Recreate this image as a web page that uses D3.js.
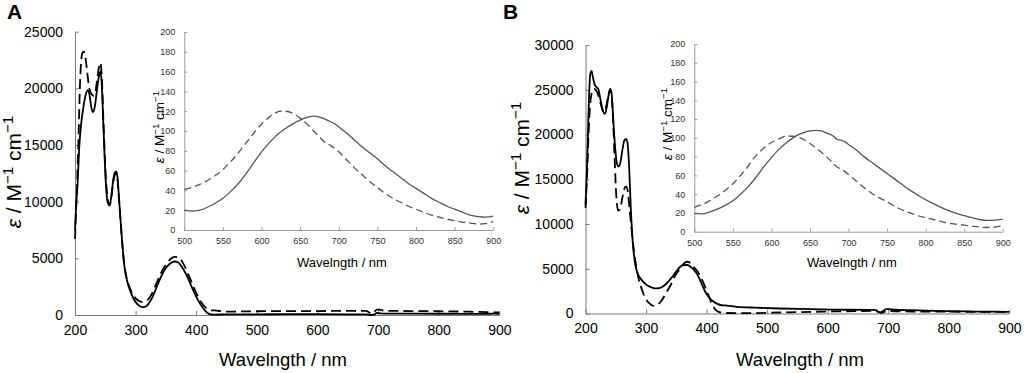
<!DOCTYPE html>
<html><head><meta charset="utf-8">
<script src="https://cdn.jsdelivr.net/npm/d3@7"></script>
<style>
html,body{margin:0;padding:0;background:#fff;}
svg{display:block;font-family:"Liberation Sans",Arial,sans-serif;}
</style></head>
<body>
<svg id="c" width="1024" height="373"></svg>
<script>
// ---------- DATA ----------
const mainXTicks = [200,300,400,500,600,700,800,900];
const mainYTicksA = [0,5000,10000,15000,20000,25000];
const mainYTicksB = [0,5000,10000,15000,20000,25000,30000];
const insetXTicks = [500,550,600,650,700,750,800,850,900];
const insetYTicks = [0,20,40,60,80,100,120,140,160,180,200];

const mainA_solid = [[200,7500],[202,9800],[204,11300],[207,14800],[210,16800],[214,18400],[218,19500],[221,19850],[224,19400],[227,18300],[230,17900],[233,18500],[237,20200],[240,21200],[242,21500],[244,20500],[247,16500],[250,12500],[254,9900],[257,9650],[260,10500],[263,11900],[266,12600],[268,12650],[270,12200],[273,10000],[277,7000],[281,4500],[286,3000],[292,2000],[298,1300],[305,850],[312,700],[318,800],[325,1300],[332,2100],[340,3150],[348,4000],[356,4500],[364,4720],[370,4650],[378,4100],[386,3300],[394,2300],[402,1400],[410,700],[418,200],[424,60],[430,40],[450,50],[500,60],[550,70],[600,70],[650,60],[680,50],[686,10],[690,0],[694,60],[698,180],[702,160],[710,130],[750,120],[800,110],[850,100],[880,100],[890,120],[900,100]];
const mainA_dashed = [[200,6700],[202,9500],[204,12500],[206,16000],[208,20000],[210,22300],[212,23100],[214,23250],[217,22800],[220,21500],[223,20200],[227,19500],[231,19350],[234,19800],[237,21000],[240,22000],[242,22250],[244,21200],[247,17000],[250,13000],[254,10200],[257,9700],[260,10400],[263,11700],[266,12400],[268,12500],[270,12000],[273,9900],[277,7000],[281,4600],[286,3100],[292,2200],[298,1600],[305,1250],[311,1150],[318,1250],[325,1700],[332,2500],[340,3500],[348,4300],[356,4850],[364,5130],[370,5100],[378,4600],[386,3700],[394,2700],[402,1700],[410,1000],[418,550],[424,420],[430,400],[450,300],[500,330],[550,340],[600,350],[650,360],[680,360],[686,200],[690,90],[694,300],[698,480],[702,470],[710,380],[750,350],[800,330],[850,290],[880,250],[900,230]];
const mainB_solid = [[200,12200],[202,15500],[204,20000],[206,24500],[208,26800],[210,27100],[212,26500],[215,25600],[218,25300],[221,25100],[225,23800],[229,22600],[232,22300],[235,23000],[238,24300],[241,24950],[243,24600],[246,21500],[249,18500],[252,16700],[255,16400],[258,17000],[261,18300],[264,19300],[267,19500],[269,19200],[272,16500],[275,11500],[278,8000],[281,6000],[285,4700],[290,4000],[296,3500],[303,3100],[310,2900],[318,2800],[325,2900],[333,3300],[341,3900],[349,4600],[356,5200],[362,5400],[368,5420],[374,5200],[380,4800],[386,4200],[392,3300],[398,2400],[404,1800],[410,1400],[417,1100],[423,950],[430,900],[450,750],[480,650],[520,560],[575,490],[630,420],[676,410],[680,380],[684,150],[688,120],[692,300],[697,490],[702,480],[710,420],[740,370],[795,260],[850,220],[900,190]];
const mainB_dashed = [[200,11800],[202,14500],[204,18000],[206,21500],[208,23600],[211,24800],[214,25100],[218,24900],[222,24200],[226,23200],[230,22500],[234,23100],[238,24500],[241,25100],[243,24500],[245,22500],[248,17500],[251,13000],[254,11500],[257,11600],[260,12600],[264,13900],[267,14200],[270,13600],[273,11500],[276,9500],[280,7000],[284,5200],[288,3800],[293,2700],[299,1700],[306,1100],[312,860],[318,950],[325,1400],[332,2150],[340,3100],[348,4200],[356,5000],[362,5550],[368,5780],[374,5600],[380,5100],[387,4500],[393,3700],[398,2900],[404,1900],[410,900],[416,350],[421,150],[430,60],[464,40],[520,110],[575,190],[630,250],[676,290],[682,250],[687,100],[690,80],[694,200],[698,300],[704,280],[740,220],[800,200],[900,180]];

const insetA_solid = [[500,20],[510,19],[520,20],[530,23],[540,27],[550,32],[560,39],[570,47],[580,57],[590,68],[600,79],[610,88],[620,96],[630,102],[640,107],[650,111],[660,114],[668,115],[675,114],[685,111],[695,107],[700,104],[710,98],[720,91],[730,84],[740,78],[750,72],[760,65],[770,59],[780,53],[790,47],[800,42],[810,37],[820,32],[830,28],[840,24],[850,21],[860,18],[870,15],[880,13.5],[890,13],[900,14]];
const insetA_dashed = [[500,41],[510,43],[520,46],[530,50],[540,55],[550,61],[560,69],[570,78],[580,88],[590,98],[600,107],[610,114],[620,119],[625,120],[630,120],[640,118],[650,113],[660,106],[670,98],[680,90],[690,85],[700,79],[710,71],[720,63],[730,56],[740,49],[750,43],[760,37],[770,32],[780,28],[790,24],[800,21],[810,18],[820,15],[830,13],[840,11],[850,9.5],[860,8],[870,7],[880,6],[890,6.5],[900,8.5]];
const insetB_solid = [[500,19.5],[510,19],[520,21],[530,24],[540,28],[550,33],[560,40],[570,48],[580,58],[590,69],[600,79],[610,88],[620,95],[630,101],[640,105],[650,107.5],[658,108],[665,107.5],[672,105],[680,102],[685,98.5],[690,97.5],[695,96],[700,93],[710,87],[720,80],[730,74],[740,68],[750,62],[760,56],[770,50],[780,44],[790,39],[800,34],[810,30],[820,26],[830,22.5],[840,19.5],[850,17],[860,15],[870,13],[880,12],[890,12.3],[900,13.5]];
const insetB_dashed = [[500,26],[510,29],[520,33],[530,38],[540,44],[550,51],[560,60],[570,70],[575,76],[580,81],[590,89],[600,95],[610,99],[620,102],[630,101.5],[640,99],[650,94],[660,88],[670,81],[680,73],[685,69],[690,67],[700,61],[710,54],[720,47],[730,41],[740,36],[750,32],[760,27],[770,23],[780,20],[790,17],[800,15],[810,13],[820,11],[830,9],[840,8],[850,7],[860,6],[870,5],[880,4.5],[890,5],[900,7]];

// ---------- DRAW ----------
const svg = d3.select("#c");
const FONT = '"Liberation Sans",Arial,sans-serif';

function yLabel(g, x, y, size) {
  const t = g.append("text")
    .attr("transform", `translate(${x},${y}) rotate(-90)`)
    .attr("text-anchor", "middle")
    .attr("font-size", size).attr("fill", "#000");
  const s = size*0.72, up = size*0.38;
  t.append("tspan").attr("font-style", "italic").text("ε");
  t.append("tspan").text(" / M");
  t.append("tspan").attr("font-size", s).attr("dy", -up).text("−1");
  t.append("tspan").attr("dy", up).text(" cm");
  t.append("tspan").attr("font-size", s).attr("dy", -up).text("−1");
}

function mainPanel(cfg) {
  const g = svg.append("g");
  const x = d3.scaleLinear().domain([200, 900]).range(cfg.xr);
  const y = d3.scaleLinear().domain([0, cfg.ymax]).range(cfg.yr);
  const ax = g.append("g").attr("transform", `translate(0,${cfg.yr[0]})`)
    .call(d3.axisBottom(x).tickValues(mainXTicks).tickSize(-4).tickSizeOuter(0).tickPadding(10).tickFormat(d3.format("d")));
  const ay = g.append("g").attr("transform", `translate(${cfg.xr[0]},0)`)
    .call(d3.axisLeft(y).tickValues(cfg.yticks).tickSize(-4).tickSizeOuter(0).tickPadding(12).tickFormat(d3.format("d")));
  [ax, ay].forEach(a => {
    a.selectAll("path,line").attr("stroke", "#7a7a7a").attr("stroke-width", 1);
    a.selectAll("text").attr("font-size", 14).attr("font-family", FONT).attr("fill", "#000");
  });
  const line = d3.line().x(d => x(d[0])).y(d => y(d[1])).curve(d3.curveMonotoneX);
  g.append("path").datum(cfg.dashed).attr("d", line).attr("fill", "none")
    .attr("stroke", "#000").attr("stroke-width", 1.8).attr("stroke-dasharray", "10,5");
  g.append("path").datum(cfg.solid).attr("d", line).attr("fill", "none")
    .attr("stroke", "#000").attr("stroke-width", 1.8);
  g.append("text").attr("x", cfg.titleX).attr("y", 366).attr("text-anchor", "middle")
    .attr("font-size", 18.5).text("Wavelngth / nm");
  yLabel(g, cfg.ylx, cfg.yly, 21);
  g.append("text").attr("x", cfg.letterX).attr("y", 19).attr("font-size", 21)
    .attr("font-weight", "bold").text(cfg.letter);
}

function insetPanel(cfg) {
  const g = svg.append("g");
  const x = d3.scaleLinear().domain([500, 900]).range(cfg.xr);
  const y = d3.scaleLinear().domain([0, 200]).range(cfg.yr);
  const ax = g.append("g").attr("transform", `translate(0,${cfg.yr[0]})`)
    .call(d3.axisBottom(x).tickValues(insetXTicks).tickSize(-3).tickSizeOuter(0).tickPadding(8).tickFormat(d3.format("d")));
  const ay = g.append("g").attr("transform", `translate(${cfg.xr[0]},0)`)
    .call(d3.axisLeft(y).tickValues(insetYTicks).tickSize(-3).tickSizeOuter(0).tickPadding(9).tickFormat(d3.format("d")));
  [ax, ay].forEach(a => {
    a.selectAll("path,line").attr("stroke", "#9a9a9a").attr("stroke-width", 1);
    a.selectAll("text").attr("font-size", 9).attr("font-family", FONT).attr("fill", "#333");
  });
  const line = d3.line().x(d => x(d[0])).y(d => y(d[1])).curve(d3.curveMonotoneX);
  g.append("path").datum(cfg.dashed).attr("d", line).attr("fill", "none")
    .attr("stroke", "#555").attr("stroke-width", 1.3).attr("stroke-dasharray", "7,4");
  g.append("path").datum(cfg.solid).attr("d", line).attr("fill", "none")
    .attr("stroke", "#555").attr("stroke-width", 1.3);
  g.append("text").attr("x", cfg.titleX).attr("y", 267).attr("text-anchor", "middle")
    .attr("font-size", 13).text("Wavelngth / nm");
  yLabel(g, cfg.ylx, cfg.yly, 13.5);
}

mainPanel({xr:[75, 499.3], yr:[315, 31.7], ymax:25000, yticks:mainYTicksA,
  solid:mainA_solid, dashed:mainA_dashed, titleX:283, ylx:21, yly:172, letter:"A", letterX:7});
mainPanel({xr:[585.5, 1009.3], yr:[313.5, 45], ymax:30000, yticks:mainYTicksB,
  solid:mainB_solid, dashed:mainB_dashed, titleX:800, ylx:529, yly:158, letter:"B", letterX:503});
insetPanel({xr:[184.3, 493.3], yr:[230, 32], solid:insetA_solid, dashed:insetA_dashed,
  titleX:342, ylx:164, yly:127});
insetPanel({xr:[694.3, 1002.7], yr:[231.7, 44], solid:insetB_solid, dashed:insetB_dashed,
  titleX:852, ylx:672, yly:124});
</script>
</body></html>
